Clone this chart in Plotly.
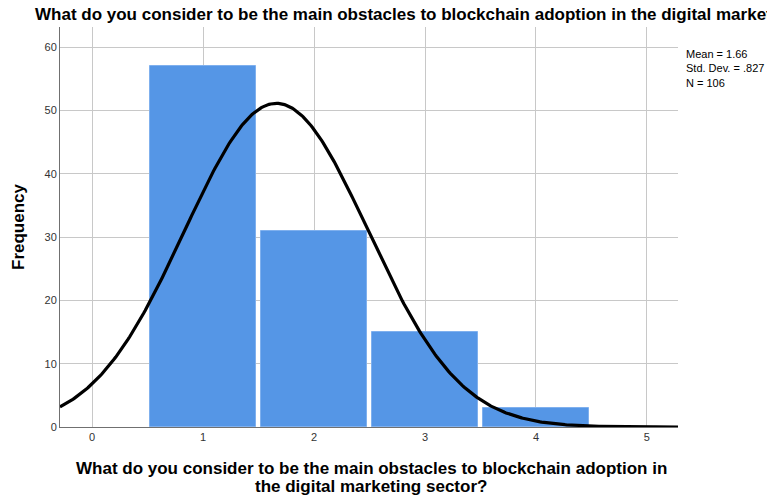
import numpy as np
import plotly.graph_objects as go

# Response codes and their frequencies
categories = [1, 2, 3, 4]
frequencies = [57, 31, 15, 3]

# Summary statistics shown beside the plot
mean_val = 1.66
std_val = 0.827
n_val = 106

question = "What do you consider to be the main obstacles to blockchain adoption in the digital marketing sector?"
x_title_lines = [
    "What do you consider to be the main obstacles to blockchain adoption in",
    "the digital marketing sector?",
]
x_ticks = [0, 1, 2, 3, 4, 5]
y_ticks = [0, 10, 20, 30, 40, 50, 60]

x_range = [-0.29, 5.28]
y_range = [0, 63.2]

# Fitted normal curve scaled to counts (bin width 1)
xs = np.linspace(x_range[0], x_range[1], 400)
ys = n_val * np.exp(-0.5 * ((xs - mean_val) / std_val) ** 2) / (std_val * np.sqrt(2 * np.pi))

W, H = 767, 496
L, R, T, B = 60, 89, 27, 69
plot_h = H - T - B
plot_w = W - L - R

fig = go.Figure()
fig.add_trace(go.Bar(
    x=categories, y=frequencies, width=0.955,
    marker=dict(color="#5596E6", line=dict(color="#7FB0EE", width=1)),
    hoverinfo="x+y",
))
fig.add_trace(go.Scatter(
    x=xs, y=ys, mode="lines",
    line=dict(color="black", width=3.2),
    hoverinfo="skip",
))

fig.update_layout(
    width=W, height=H,
    margin=dict(l=L, r=R, t=T, b=B, autoexpand=False),
    paper_bgcolor="white", plot_bgcolor="white",
    showlegend=False,
    font=dict(family="Liberation Sans, Arial, sans-serif", color="#222"),
    title=dict(
        text="<b>" + question + "</b>",
        x=35 / W, xanchor="left", y=1 - 14 / H, yanchor="middle",
        font=dict(size=17, color="black"),
    ),
    xaxis=dict(
        range=x_range, tickvals=x_ticks, ticktext=[str(t) for t in x_ticks],
        showgrid=True, gridcolor="#C8C8C8", gridwidth=1,
        zeroline=False, showline=True, linecolor="#707070", linewidth=1,
        ticks="", tickfont=dict(size=11, color="#333"), automargin=False,
    ),
    yaxis=dict(
        range=y_range, tickvals=y_ticks,
        showgrid=True, gridcolor="#C8C8C8", gridwidth=1,
        zeroline=False, showline=True, linecolor="#707070", linewidth=1,
        ticks="", tickfont=dict(size=11, color="#333"), automargin=False,
    ),
    bargap=0,
)

# Axis titles placed as annotations
for line, py in zip(x_title_lines, [468, 486]):
    fig.add_annotation(
        text="<b>" + line + "</b>", xref="paper", yref="paper",
        x=(371 - L) / plot_w, y=(H - B - py) / plot_h,
        xanchor="center", yanchor="middle", showarrow=False,
        font=dict(size=17, color="black"),
    )
fig.add_annotation(
    text="<b>Frequency</b>", xref="paper", yref="paper",
    x=(18 - L) / plot_w, y=(H - B - 227) / plot_h, textangle=-90,
    xanchor="center", yanchor="middle", showarrow=False,
    font=dict(size=17, color="black"),
)

fig.add_annotation(
    text=f"Mean = {mean_val:.2f}<br>Std. Dev. = .{int(round(std_val*1000))}<br>N = {n_val}",
    xref="paper", yref="paper", x=1.0, y=1.0, xshift=6, yshift=-19,
    xanchor="left", yanchor="top", align="left", showarrow=False,
    font=dict(size=11, color="black"),
)

fig.write_html("out.html")
